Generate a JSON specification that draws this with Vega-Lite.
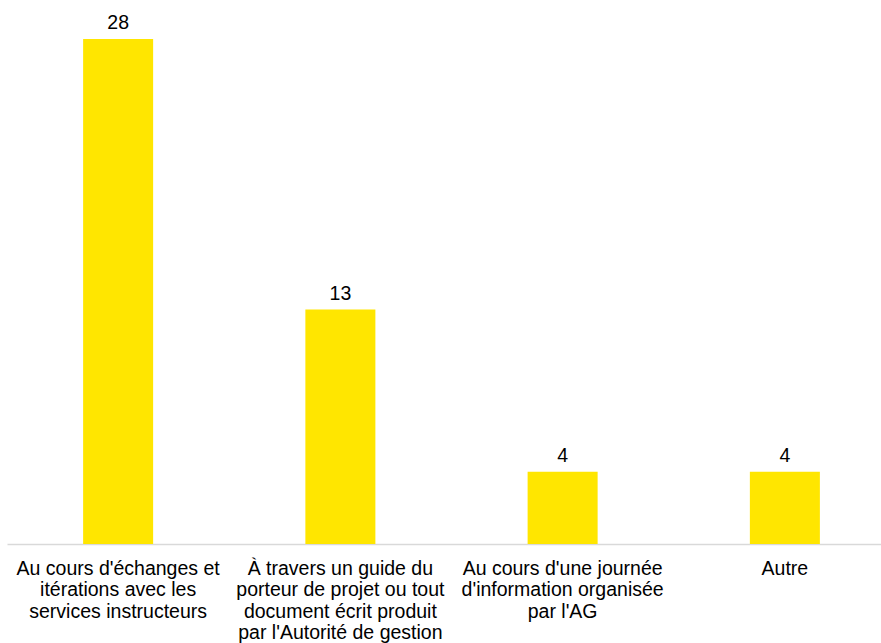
{
  "$schema": "https://vega.github.io/schema/vega-lite/v6.json",
  "width": 889,
  "height": 505,
  "autosize": {"type": "none"},
  "padding": {"left": 7, "top": 39, "right": 0, "bottom": 99},
  "background": "white",
  "config": {"view": {"stroke": null}, "font": "Liberation Sans"},
  "data": {
    "values": [
      {"categorie": "Au cours d'échanges et itérations avec les services instructeurs", "valeur": 28},
      {"categorie": "À travers un guide du porteur de projet ou tout document écrit produit par l'Autorité de gestion", "valeur": 13},
      {"categorie": "Au cours d'une journée d'information organisée par l'AG", "valeur": 4},
      {"categorie": "Autre", "valeur": 4}
    ]
  },
  "encoding": {
    "x": {
      "field": "categorie",
      "type": "nominal",
      "sort": null,
      "scale": {"paddingInner": 0.685, "paddingOuter": 0.3425},
      "axis": {
        "title": null,
        "labelAngle": 0,
        "ticks": false,
        "domainColor": "#D9D9D9",
        "domainWidth": 1.5,
        "labelFontSize": 19.5,
        "labelColor": "#000000",
        "labelLineHeight": 21.5,
        "labelPadding": 15,
        "labelLimit": 0,
        "labelBaseline": "top",
        "labelExpr": "datum.label == 'Autre' ? 'Autre' : indexof(datum.label, 'échanges') >= 0 ? ['Au cours d\\'échanges et', 'itérations avec les', 'services instructeurs'] : indexof(datum.label, 'guide') >= 0 ? ['À travers un guide du', 'porteur de projet ou tout', 'document écrit produit', 'par l\\'Autorité de gestion'] : ['Au cours d\\'une journée', 'd\\'information organisée', 'par l\\'AG']"
      }
    },
    "y": {
      "field": "valeur",
      "type": "quantitative",
      "scale": {"domain": [0, 28], "nice": false},
      "axis": null
    }
  },
  "layer": [
    {"mark": {"type": "bar", "color": "#FFE600"}},
    {
      "mark": {"type": "text", "baseline": "alphabetic", "dy": -10, "fontSize": 19.5, "color": "#000000"},
      "encoding": {"text": {"field": "valeur", "type": "quantitative"}}
    }
  ]
}
